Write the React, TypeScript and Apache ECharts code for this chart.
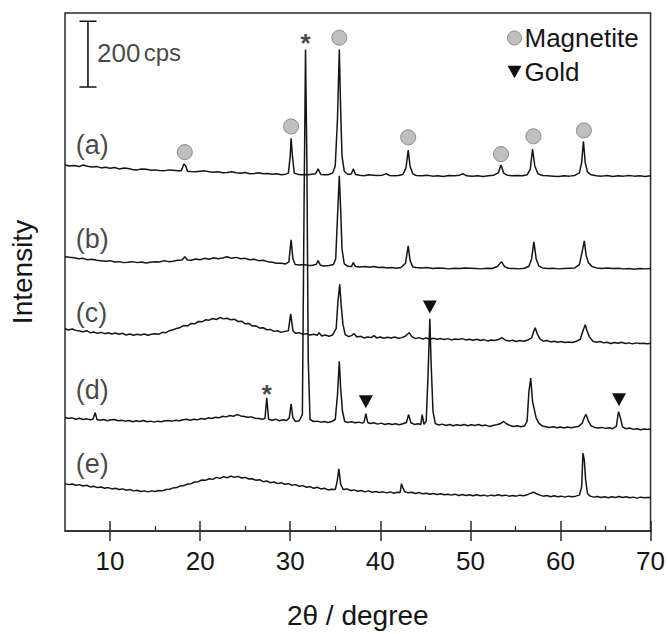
import React, { useEffect, useRef } from "react";
import * as echarts from "echarts";

// 2θ (degree) vs. intensity above each trace's own baseline (cps)
const traceNames = ["(a)", "(b)", "(c)", "(d)", "(e)"];
const traceOffsets = [1080, 798, 579, 324, 114];

const traceA: number[][] = [[5,33],[5.5,30],[6,31],[6.6,28],[7,33],[7.5,29],[8,27],[8.6,28],[9,24],[9.5,26],[10,23],[10.5,25],[11,21],[11.6,24],[12,22],[12.5,19],[13,18],[13.5,21],[14,20],[14.6,17],[15,18],[15.5,16],[16,15],[16.5,18],[17,17],[17.5,15],[17.9,15],[18.2,36],[18.4,30],[18.6,14],[19,13],[19.5,12],[20,14],[20.5,15],[21,12],[21.5,11],[22,12],[22.5,9],[23,10],[23.5,12],[24,9],[24.5,8],[25,10],[25.5,6],[26,7],[26.5,9],[27,6],[27.5,7],[28,5],[28.5,6],[29,3],[29.5,5],[29.8,8],[30.0,60],[30.1,114],[30.25,60],[30.45,8],[30.8,5],[31.2,3],[31.6,4],[32,3],[32.4,5],[32.8,6],[33.1,21],[33.4,4],[33.8,3],[34.2,3],[34.7,8],[35.0,30],[35.25,174],[35.45,384],[35.6,200],[35.75,60],[36.0,14],[36.4,4],[36.8,6],[37.0,21],[37.25,4],[37.7,2],[38.2,0],[38.7,3],[39.2,2],[39.7,1],[40.2,2],[40.7,6],[41.0,1],[41.5,0],[42.0,1],[42.5,4],[42.85,24],[43.1,78],[43.3,30],[43.6,6],[44,1],[44.6,0],[45.2,2],[45.8,-1],[46.4,0],[47,-2],[47.6,1],[48.2,0],[48.8,2],[49.2,6],[49.6,0],[50.2,-1],[50.8,0],[51.4,-2],[52,0],[52.6,2],[53.1,9],[53.4,33],[53.7,8],[54.1,2],[54.6,0],[55.2,1],[55.8,0],[56.3,3],[56.65,20],[56.9,81],[57.15,30],[57.5,6],[58,1],[58.6,0],[59.2,-1],[59.8,-2],[60.4,0],[61,-1],[61.6,1],[62.1,9],[62.35,40],[62.55,105],[62.75,40],[63.0,12],[63.4,3],[64,0],[64.6,-1],[65.2,1],[65.8,-2],[66.4,0],[67,-1],[67.6,1],[68.2,-1],[68.8,0],[69.4,-2],[70,0]];

const traceB: number[][] = [[5,36],[5.5,34],[6,33],[6.5,30],[7,31],[7.5,27],[8,28],[8.5,25],[9,24],[9.5,22],[10,24],[10.5,20],[11,21],[11.5,18],[12,19],[12.5,21],[13,18],[13.5,20],[14,17],[14.5,19],[15,21],[15.5,20],[16,24],[16.5,21],[17,22],[17.5,25],[18,26],[18.3,36],[18.6,26],[19,25],[19.5,29],[20,27],[20.5,31],[21,28],[21.5,33],[22,30],[22.5,32],[23,36],[23.5,31],[24,34],[24.5,30],[25,31],[25.5,27],[26,28],[26.5,24],[27,25],[27.5,21],[28,19],[28.5,16],[29,16],[29.5,14],[29.85,20],[30.1,87],[30.3,30],[30.55,12],[31,11],[31.5,12],[32,9],[32.5,10],[32.9,13],[33.1,24],[33.35,10],[33.8,8],[34.3,9],[34.8,12],[35.05,30],[35.25,156],[35.45,282],[35.6,180],[35.75,60],[36.0,14],[36.4,7],[36.8,6],[37.0,18],[37.25,6],[37.7,5],[38.3,6],[38.8,4],[39.3,6],[39.8,3],[40.3,4],[40.8,2],[41.3,3],[41.8,1],[42.3,3],[42.8,16],[43.1,69],[43.3,25],[43.6,5],[44,3],[44.6,2],[45.2,3],[45.8,0],[46.4,2],[47,1],[47.6,-1],[48.2,1],[48.8,0],[49.4,2],[50,1],[50.6,0],[51.2,-1],[51.8,1],[52.4,0],[53,6],[53.45,21],[53.8,6],[54.2,1],[54.8,0],[55.4,-1],[56,1],[56.5,7],[56.8,30],[57.05,81],[57.3,30],[57.6,8],[58,2],[58.6,0],[59.2,1],[59.8,-1],[60.4,0],[61,1],[61.6,2],[62.1,12],[62.4,50],[62.65,84],[62.85,40],[63.1,18],[63.5,6],[64,2],[64.6,0],[65.2,2],[65.8,0],[66.4,1],[67,-1],[67.6,0],[68.2,-2],[68.8,0],[69.4,-1],[70,0]];

const traceC: number[][] = [[5,36],[5.4,32],[5.8,35],[6.2,31],[6.6,29],[7,27],[7.4,30],[7.8,24],[8.2,26],[8.6,22],[9,25],[9.4,21],[9.8,24],[10.2,20],[10.6,23],[11,19],[11.4,22],[11.8,17],[12.2,20],[12.6,16],[13,19],[13.4,17],[13.8,20],[14.2,16],[14.6,19],[15,21],[15.4,19],[15.8,25],[16.2,24],[16.6,30],[17,33],[17.4,37],[17.8,40],[18.2,46],[18.6,44],[19,52],[19.4,51],[19.8,58],[20.2,57],[20.6,63],[21,62],[21.4,67],[21.8,64],[22.2,70],[22.6,66],[23,68],[23.4,63],[23.8,65],[24.2,58],[24.6,59],[25,51],[25.4,52],[25.8,44],[26.2,45],[26.6,38],[27,39],[27.4,33],[27.8,34],[28.2,28],[28.6,30],[29,25],[29.4,28],[29.8,30],[30.05,81],[30.3,30],[30.6,22],[31,24],[31.4,19],[31.8,21],[32.2,17],[32.6,19],[33,16],[33.2,24],[33.5,14],[33.9,17],[34.3,13],[34.7,17],[35.1,36],[35.3,120],[35.5,171],[35.65,110],[35.85,50],[36.1,18],[36.5,12],[36.8,15],[37.1,21],[37.4,11],[37.8,13],[38.2,8],[38.6,11],[39,9],[39.3,15],[39.6,8],[40,11],[40.4,7],[40.8,10],[41.2,8],[41.6,11],[42,7],[42.4,9],[42.8,14],[43.2,24],[43.5,12],[43.9,6],[44.3,9],[44.7,5],[45.1,8],[45.5,4],[45.9,7],[46.3,4],[46.7,6],[47.1,3],[47.5,6],[47.9,2],[48.3,5],[48.7,3],[49.1,6],[49.5,2],[49.9,4],[50.3,1],[50.7,4],[51.1,0],[51.5,3],[51.9,-1],[52.3,2],[52.7,0],[53.1,3],[53.5,9],[53.9,1],[54.3,-1],[54.7,1],[55.1,-3],[55.5,0],[55.9,-2],[56.4,2],[56.8,8],[57.0,25],[57.2,39],[57.4,22],[57.7,6],[58.1,-2],[58.5,0],[58.9,-4],[59.3,-2],[59.7,-5],[60.1,-3],[60.5,-6],[60.9,-4],[61.3,-6],[61.7,-3],[62.2,4],[62.5,30],[62.75,48],[62.95,30],[63.2,12],[63.6,-2],[64,-5],[64.4,-3],[64.8,-7],[65.2,-5],[65.6,-9],[66,-6],[66.4,-8],[66.8,-5],[67.2,-9],[67.6,-7],[68,-10],[68.4,-7],[68.8,-9],[69.2,-8],[69.6,-10],[70,-9]];

const traceD: number[][] = [[5,21],[5.4,18],[5.8,20],[6.2,16],[6.6,19],[7,15],[7.4,17],[7.8,14],[8.1,16],[8.35,36],[8.55,15],[8.9,13],[9.3,15],[9.7,11],[10.1,14],[10.5,15],[10.9,11],[11.3,13],[11.7,10],[12.1,12],[12.5,8],[12.9,11],[13.3,9],[13.7,12],[14.1,8],[14.5,10],[14.9,7],[15.3,10],[15.7,8],[16.1,11],[16.5,12],[16.9,10],[17.3,13],[17.7,11],[18.1,14],[18.5,16],[18.9,13],[19.3,16],[19.7,14],[20.1,18],[20.5,16],[20.9,20],[21.3,18],[21.7,22],[22.1,20],[22.5,25],[22.9,23],[23.3,27],[23.7,25],[24.1,30],[24.5,26],[24.9,24],[25.3,22],[25.7,23],[26.1,19],[26.5,18],[26.9,16],[27.2,18],[27.4,81],[27.6,16],[28,13],[28.4,16],[28.8,11],[29.2,14],[29.6,12],[29.9,20],[30.1,63],[30.3,20],[30.6,9],[31.0,11],[31.35,30],[31.55,700],[31.7,1140],[31.85,800],[32.0,200],[32.2,15],[32.6,9],[33,10],[33.4,7],[33.8,9],[34.2,6],[34.6,9],[35.0,15],[35.25,90],[35.45,192],[35.6,110],[35.8,40],[36.05,9],[36.4,6],[36.8,8],[37.2,5],[37.6,7],[38.0,4],[38.2,7],[38.4,33],[38.6,6],[38.9,3],[39.3,5],[39.7,1],[40.1,4],[40.5,0],[40.9,3],[41.3,0],[41.7,2],[42.1,-1],[42.5,2],[42.9,6],[43.15,30],[43.4,5],[43.8,0],[44.2,2],[44.5,0],[44.65,30],[44.85,0],[45.1,10],[45.3,150],[45.5,321],[45.65,180],[45.85,40],[46.1,3],[46.5,-2],[46.9,1],[47.3,-3],[47.7,0],[48.1,-4],[48.5,-1],[48.9,-3],[49.3,0],[49.7,-4],[50.1,-1],[50.5,-3],[50.9,0],[51.3,-4],[51.7,-2],[52.1,-6],[52.5,-3],[52.9,-1],[53.3,2],[53.7,9],[54.0,2],[54.4,-3],[54.8,-6],[55.2,-4],[55.6,-7],[56.0,-5],[56.3,10],[56.5,100],[56.7,141],[56.9,70],[57.1,45],[57.3,20],[57.6,4],[58,-5],[58.4,-7],[58.8,-9],[59.2,-7],[59.6,-10],[60,-8],[60.4,-11],[60.8,-8],[61.2,-10],[61.6,-8],[62,-6],[62.4,3],[62.7,25],[62.85,30],[63.1,10],[63.4,-4],[63.8,-9],[64.2,-11],[64.6,-9],[65,-12],[65.4,-10],[65.8,-13],[66.2,-6],[66.45,39],[66.65,20],[66.9,-8],[67.3,-13],[67.7,-11],[68.1,-15],[68.5,-13],[68.9,-16],[69.3,-14],[69.7,-15],[70,-15]];

const traceE: number[][] = [[5,30],[5.4,27],[5.8,29],[6.2,25],[6.6,27],[7,23],[7.4,25],[7.8,20],[8.2,22],[8.6,18],[9,20],[9.4,16],[9.8,18],[10.2,14],[10.6,16],[11,12],[11.4,14],[11.8,10],[12.2,12],[12.6,8],[13,10],[13.4,6],[13.8,8],[14.2,5],[14.6,8],[15,6],[15.4,9],[15.8,8],[16.2,12],[16.6,13],[17,17],[17.4,18],[17.8,23],[18.2,24],[18.6,29],[19,30],[19.4,35],[19.8,36],[20.2,41],[20.6,40],[21,45],[21.4,43],[21.8,49],[22.2,46],[22.6,51],[23,48],[23.4,53],[23.8,49],[24.2,52],[24.6,47],[25,49],[25.4,44],[25.8,45],[26.2,40],[26.6,42],[27,36],[27.4,38],[27.8,33],[28.2,35],[28.6,30],[29,33],[29.4,28],[29.8,30],[30.2,25],[30.6,27],[31,22],[31.4,24],[31.8,19],[32.2,21],[32.6,16],[33,19],[33.4,14],[33.8,16],[34.2,11],[34.6,13],[35.0,12],[35.2,35],[35.4,75],[35.6,28],[35.9,12],[36.3,14],[36.7,9],[37.1,11],[37.5,7],[37.9,9],[38.3,5],[38.7,8],[39.1,4],[39.5,6],[39.9,3],[40.3,5],[40.7,2],[41.1,5],[41.5,1],[41.9,4],[42.2,3],[42.35,30],[42.5,18],[42.7,6],[43.1,2],[43.5,4],[43.9,0],[44.3,3],[44.7,-1],[45.1,1],[45.5,-2],[45.9,0],[46.3,-3],[46.7,-1],[47.1,-4],[47.5,-2],[47.9,-5],[48.3,-2],[48.7,-6],[49.1,-3],[49.5,-6],[49.9,-4],[50.3,-7],[50.7,-4],[51.1,-7],[51.5,-5],[51.9,-8],[52.3,-5],[52.7,-7],[53.1,-4],[53.5,-7],[53.9,-5],[54.3,-8],[54.7,-6],[55.1,-8],[55.5,-5],[55.9,-7],[56.3,-4],[56.7,1],[57.0,4],[57.3,0],[57.7,-5],[58.1,-8],[58.5,-6],[58.9,-10],[59.3,-7],[59.7,-10],[60.1,-8],[60.5,-11],[60.9,-8],[61.3,-10],[61.7,-8],[62.1,-5],[62.35,20],[62.5,123],[62.65,100],[62.8,40],[63.0,0],[63.3,-8],[63.7,-11],[64.1,-9],[64.5,-12],[64.9,-10],[65.3,-13],[65.7,-10],[66.1,-12],[66.5,-9],[66.9,-12],[67.3,-10],[67.7,-13],[68.1,-11],[68.5,-14],[68.9,-11],[69.3,-13],[69.7,-12],[70,-12]];

const traces = [traceA, traceB, traceC, traceD, traceE];

// reflection markers (2θ, plotted intensity)
const magnetiteMarks: number[][] = [[18.3,1152],[30.1,1230],[35.45,1500],[43.1,1197],[53.4,1146],[57.0,1200],[62.6,1218]];
const goldMarks: number[][] = [[38.4,393],[45.5,681],[66.5,399]];
const asteriskMarks: number[][] = [[31.7,1485],[27.4,417]];

// trace label anchors (2θ, plotted intensity)
const traceLabelX = 6.2;
const traceLabelY = [1173, 888, 663, 429, 204];

// 200 cps scale bar
const scaleBarX = 7.55;
const scaleBarCapHalf = 0.95;
const scaleBarBottom = 1350;
const scaleBarCps = 200;

const xMajorTicks = [10, 20, 30, 40, 50, 60, 70];
const xMinorTicks = [15, 25, 35, 45, 55, 65];

const FONT = "'Liberation Sans', Arial, Helvetica, sans-serif";
const INK = "#151515";
const GOLD_ICON = "path://M0,0L10,0L5,9Z";

export default function App() {
  const ref = useRef<HTMLDivElement>(null);
  useEffect(() => {
    if (!ref.current) return;
    const chart = echarts.init(ref.current, undefined, { renderer: "svg" });
    const lineSeries = traces.map((t, i) => ({
      type: "line",
      name: traceNames[i],
      data: t.map(([x, v]) => [x, v + traceOffsets[i]]),
      symbol: "none",
      showSymbol: false,
      silent: true,
      lineStyle: { color: INK, width: 1.5 },
      z: 3,
    }));
    const top = scaleBarBottom + scaleBarCps;
    const barStyle = { color: INK, width: 1.6 };
    const option: any = {
      animation: false,
      backgroundColor: "#ffffff",
      textStyle: { fontFamily: FONT, color: INK },
      grid: {
        left: 64,
        right: 17,
        top: 13,
        bottom: 96,
        show: true,
        borderColor: "#2a2a2a",
        borderWidth: 1.5,
        backgroundColor: "transparent",
      },
      legend: {
        orient: "vertical",
        left: 502,
        top: 20,
        itemWidth: 14,
        itemHeight: 14,
        itemGap: 8,
        selectedMode: false,
        textStyle: { fontSize: 26, fontFamily: FONT, color: INK, lineHeight: 26, padding: [0, 0, 0, -2] },
        data: [
          { name: "Magnetite", icon: "circle", itemStyle: { color: "#bfbfbf", borderColor: "#8a8a8a", borderWidth: 1 } },
          { name: "Gold", icon: GOLD_ICON, itemStyle: { color: "#111" } },
        ],
      },
      xAxis: [
        {
          type: "value",
          min: 5,
          max: 70,
          position: "bottom",
          axisLine: { show: true, lineStyle: { color: "#2a2a2a", width: 1.5 } },
          axisTick: { show: true, inside: false, length: 10, customValues: xMajorTicks, lineStyle: { color: "#2a2a2a", width: 1.5 } },
          axisLabel: { show: true, customValues: xMajorTicks, fontSize: 26, margin: 17, color: INK, fontFamily: FONT },
          splitLine: { show: false },
          name: "2θ / degree",
          nameLocation: "middle",
          nameGap: 70,
          nameTextStyle: { fontSize: 28, color: INK, fontFamily: FONT },
        },
        {
          type: "value",
          min: 5,
          max: 70,
          position: "bottom",
          axisLine: { show: false },
          axisTick: { show: true, inside: true, length: 10, customValues: xMajorTicks, lineStyle: { color: "#2a2a2a", width: 1.5 } },
          axisLabel: { show: false },
          splitLine: { show: false },
        },
        {
          type: "value",
          min: 5,
          max: 70,
          position: "bottom",
          axisLine: { show: false },
          axisTick: { show: true, inside: true, length: 5, customValues: xMinorTicks, lineStyle: { color: "#2a2a2a", width: 1.2 } },
          axisLabel: { show: false },
          splitLine: { show: false },
        },
      ],
      yAxis: {
        type: "value",
        min: 0,
        max: 1575,
        axisLine: { show: false },
        axisTick: { show: false },
        axisLabel: { show: false },
        splitLine: { show: false },
        name: "Intensity",
        nameLocation: "middle",
        nameGap: 29,
        nameRotate: 90,
        nameTextStyle: { fontSize: 28, color: INK, fontFamily: FONT },
      },
      series: [
        ...lineSeries,
        {
          type: "scatter",
          name: "Magnetite",
          data: magnetiteMarks,
          symbol: "circle",
          symbolSize: 15,
          itemStyle: { color: "#bfbfbf", borderColor: "#8a8a8a", borderWidth: 1, opacity: 1 },
          silent: true,
          z: 5,
        },
        {
          type: "scatter",
          name: "Gold",
          data: goldMarks,
          symbol: GOLD_ICON,
          symbolSize: [14, 13],
          itemStyle: { color: "#111", opacity: 1 },
          silent: true,
          z: 5,
        },
        {
          type: "scatter",
          name: "asterisk",
          data: asteriskMarks,
          symbolSize: 1,
          itemStyle: { color: "rgba(0,0,0,0)" },
          label: { show: true, position: "inside", formatter: "*", fontSize: 26, fontWeight: "bold", color: INK, fontFamily: FONT },
          silent: true,
          z: 6,
        },
        {
          type: "scatter",
          name: "traceLabels",
          data: traceNames.map((n, i) => ({ name: n, value: [traceLabelX, traceLabelY[i]] })),
          symbolSize: 1,
          itemStyle: { color: "rgba(0,0,0,0)" },
          label: { show: true, position: "inside", align: "left", verticalAlign: "middle", formatter: "{b}", fontSize: 27, color: INK, fontFamily: FONT },
          silent: true,
          z: 6,
        },
        {
          type: "line",
          name: "barV",
          data: [[scaleBarX, scaleBarBottom], [scaleBarX, top]],
          symbol: "none",
          lineStyle: barStyle,
          silent: true,
        },
        {
          type: "line",
          name: "barT",
          data: [[scaleBarX - scaleBarCapHalf, top], [scaleBarX + scaleBarCapHalf, top]],
          symbol: "none",
          lineStyle: barStyle,
          silent: true,
        },
        {
          type: "line",
          name: "barB",
          data: [[scaleBarX - scaleBarCapHalf, scaleBarBottom], [scaleBarX + scaleBarCapHalf, scaleBarBottom]],
          symbol: "none",
          lineStyle: barStyle,
          silent: true,
        },
        {
          type: "scatter",
          name: "barLabel",
          data: [{ name: scaleBarCps + " cps", value: [scaleBarX + 1.0, scaleBarBottom + scaleBarCps / 2 + 4] }],
          symbolSize: 1,
          itemStyle: { color: "rgba(0,0,0,0)" },
          label: {
            show: true,
            position: "inside",
            align: "left",
            verticalAlign: "middle",
            formatter: "{big|" + scaleBarCps + "} {small|cps}",
            rich: {
              big: { fontSize: 26, fontFamily: FONT, color: INK },
              small: { fontSize: 24, fontFamily: FONT, color: INK },
            },
          },
          silent: true,
          z: 6,
        },
      ],
    };
    chart.setOption(option);
    return () => chart.dispose();
  }, []);
  return <div ref={ref} style={{ position: "absolute", left: 0, top: 0, width: 668, height: 634 }} />;
}
